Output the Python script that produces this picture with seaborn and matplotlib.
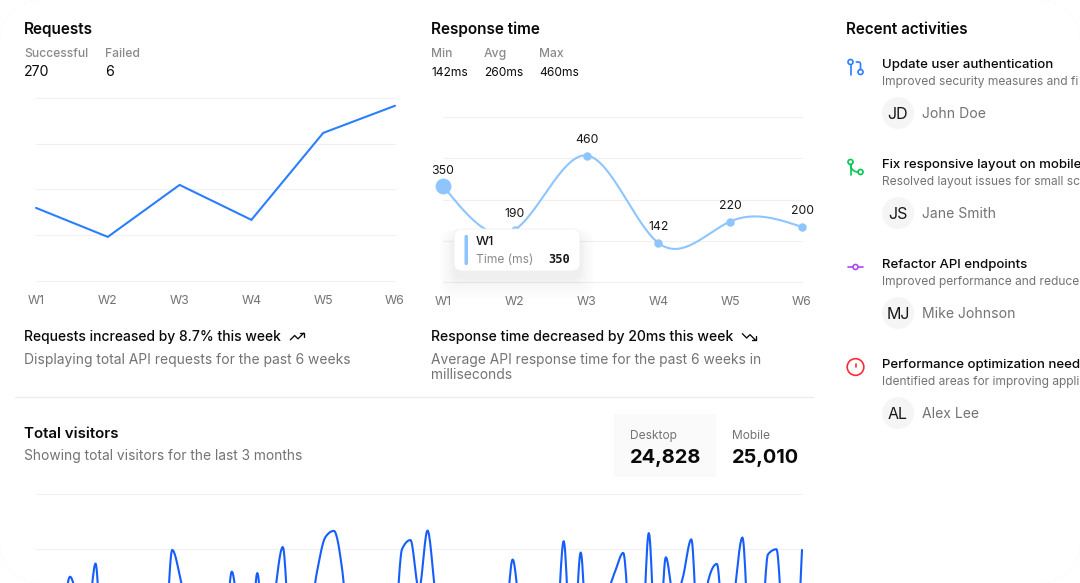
import numpy as np
import pandas as pd
import matplotlib
matplotlib.use("Agg")
import matplotlib.pyplot as plt
from matplotlib.patches import Circle, FancyBboxPatch, Rectangle
import seaborn as sns

# ---- data ----
weeks = ["W1", "W2", "W3", "W4", "W5", "W6"]
requests = [160, 97, 210, 134, 323, 382]
response_ms = [350, 190, 460, 142, 220, 200]
desktop_visitors = [
    222, 97, 167, 242, 373, 301, 245, 409, 59, 261, 327, 292, 342, 137, 120, 138,
    446, 364, 243, 89, 137, 224, 138, 387, 215, 75, 383, 122, 315, 454, 165, 293,
    247, 385, 481, 498, 388, 149, 227, 293, 335, 197, 197, 448, 473, 338, 499, 315,
    235, 177, 82, 81, 252, 294, 201, 213, 420, 233, 78, 340, 178, 178, 470, 103,
    439, 88, 294, 323, 385, 438, 155, 92, 492, 81, 426, 307, 371, 475, 107, 364,
    408, 169, 317, 480, 132, 141, 434, 448, 149, 103, 446,
]
activities = [
    ("Update user authentication", "Improved security measures and fi", "JD", "John Doe"),
    ("Fix responsive layout on mobile", "Resolved layout issues for small sc", "JS", "Jane Smith"),
    ("Refactor API endpoints", "Improved performance and reduce", "MJ", "Mike Johnson"),
    ("Performance optimization need", "Identified areas for improving appli", "AL", "Alex Lee"),
]

W, H = 1080, 583
BLUE_500, BLUE_300, BLUE_600 = "#2b7fff", "#8ec5ff", "#155dfc"
INK, MUTED, GRID = "#0a0a0a", "#737373", "#f0f0f0"
LABEL = "#8a8a8a"

sns.set_theme(style="white")
plt.rcParams["font.family"] = ["Inter", "DejaVu Sans"]
plt.rcParams["axes.unicode_minus"] = False


def pt(px):
    return px * 0.72


def natural_spline(y, per=30):
    """Natural cubic spline through evenly spaced points."""
    y = np.asarray(y, float)
    n = len(y)
    A = np.zeros((n, n))
    b = np.zeros(n)
    A[0, 0] = A[-1, -1] = 1
    for i in range(1, n - 1):
        A[i, i - 1:i + 2] = [1, 4, 1]
        b[i] = 6 * (y[i - 1] - 2 * y[i] + y[i + 1])
    m = np.linalg.solve(A, b)
    xs, ys = [], []
    for i in range(n - 1):
        t = np.linspace(0, 1, per, endpoint=False)
        xs.append(i + t)
        ys.append((1 - t) * y[i] + t * y[i + 1]
                  + ((1 - t) ** 3 - (1 - t)) * m[i] / 6 + (t ** 3 - t) * m[i + 1] / 6)
    return np.r_[np.concatenate(xs), n - 1], np.r_[np.concatenate(ys), y[-1]]


def monotone_curve(y, per=16):
    """Monotone cubic through evenly spaced points (slopes limited as in d3)."""
    y = np.asarray(y, float)
    d = np.diff(y)
    s = np.zeros(len(y))
    for i in range(1, len(y) - 1):
        if d[i - 1] * d[i] > 0:
            p = (d[i - 1] + d[i]) / 2
            s[i] = np.sign(d[i]) * min(abs(d[i - 1]), abs(d[i]), 0.5 * abs(p)) * 2
    s[0] = (3 * d[0] - s[1]) / 2
    s[-1] = (3 * d[-1] - s[-2]) / 2
    xs, ys = [], []
    for i in range(len(y) - 1):
        t = np.linspace(0, 1, per, endpoint=False)
        h00 = 2 * t**3 - 3 * t**2 + 1
        h10 = t**3 - 2 * t**2 + t
        h01 = -2 * t**3 + 3 * t**2
        h11 = t**3 - t**2
        xs.append(i + t)
        ys.append(h00 * y[i] + h10 * s[i] + h01 * y[i + 1] + h11 * s[i + 1])
    return np.r_[np.concatenate(xs), len(y) - 1], np.r_[np.concatenate(ys), y[-1]]


fig = plt.figure(figsize=(W / 100, H / 100), dpi=100, facecolor="white")


def chart_axes(x0, x1, ytop, ybot):
    ax = fig.add_axes([x0 / W, 1 - ybot / H, (x1 - x0) / W, (ybot - ytop) / H])
    ax.patch.set_alpha(0)
    sns.despine(ax=ax, left=True, bottom=True, top=True, right=True)
    ax.grid(True, axis="y", color=GRID, lw=0.75)
    ax.grid(False, axis="x")
    ax.set_axisbelow(True)
    ax.tick_params(axis="y", left=False, labelleft=False)
    return ax


# Requests: straight weekly line
ax1 = chart_axes(36, 395, 97.5, 281.5)
req_df = pd.DataFrame({"week": np.arange(len(weeks)), "count": requests})
sns.lineplot(data=req_df, x="week", y="count", ax=ax1, color=BLUE_500, lw=1.5,
             solid_joinstyle="miter", clip_on=False)
ax1.set_xlim(0, 5)
ax1.set_ylim(0, 400)
ax1.set_yticks([0, 100, 200, 300, 400])
ax1.set_xticks(range(6), weeks)

# Response time: smooth line with labelled dots
ax2 = chart_axes(443, 802, 117, 282)
cx, cy = natural_spline(response_ms)
sns.lineplot(x=cx, y=cy, ax=ax2, color=BLUE_300, lw=1.5, clip_on=False)
sns.scatterplot(x=np.arange(1, 6), y=response_ms[1:], ax=ax2, color=BLUE_300, s=37,
                linewidth=0, clip_on=False, zorder=4)
sns.scatterplot(x=[0], y=response_ms[:1], ax=ax2, color=BLUE_300, s=130,
                linewidth=0, clip_on=False, zorder=4)
ax2.set_xlim(0, 5)
ax2.set_ylim(0, 600)
ax2.set_yticks([0, 150, 300, 450, 600])
ax2.set_xticks(range(6), weeks)
for i, v in enumerate(response_ms):
    ax2.annotate(str(v), (i, v), xytext=(0, 6.9 if i else 6), textcoords="offset points",
                 ha="center", va="bottom", fontsize=pt(12.3), color="#171717", zorder=5)

for ax in (ax1, ax2):
    ax.tick_params(axis="x", bottom=False, labelsize=pt(12.3), labelcolor=MUTED, pad=4)
    ax.set_xlabel("")
    ax.set_ylabel("")

# Visitors: daily values, running past the lower edge of the canvas
ax3 = chart_axes(36, 802, 493.5, 713.5)
vx, vy = monotone_curve(desktop_visitors)
sns.lineplot(x=vx, y=vy, ax=ax3, color=BLUE_600, lw=1.5)
ax3.set_xlim(0, len(desktop_visitors) - 1)
ax3.set_ylim(0, 600)
ax3.set_yticks([0, 150, 300, 450, 600])
ax3.tick_params(axis="x", bottom=False, labelbottom=False)
ax3.set_xlabel("")
ax3.set_ylabel("")
for line in ax3.get_lines():
    line.set_clip_on(False)

# Keep the outermost grid rules visible on the axes edges
for ax in (ax1, ax2, ax3):
    for rule in ax.get_ygridlines():
        rule.set_clip_on(False)

# Page layer in pixel coordinates, for text, panels and icons
pg = fig.add_axes([0, 0, 1, 1], zorder=10)
pg.set_xlim(0, W)
pg.set_ylim(H, 0)
pg.axis("off")
pg.patch.set_alpha(0)


def put(x, y, s, size=14, color=INK, weight="normal", ha="left", family=None):
    """Place a text so that y is the middle of its capital letters."""
    kw = {"family": family} if family else {}
    return pg.text(x, y + 0.36 * size, s, fontsize=pt(size), color=color, fontweight=weight,
                   ha=ha, va="baseline", clip_on=True, **kw)


def icon(cx, cy, color, size=20, polys=(), circles=(), lw=1.67):
    k = size / 24
    for poly in polys:
        p = np.asarray(poly, float)
        pg.plot(cx + (p[:, 0] - 12) * k, cy + (p[:, 1] - 12) * k, color=color,
                lw=pt(lw), solid_capstyle="round", solid_joinstyle="round")
    for ox, oy, r in circles:
        pg.add_patch(Circle((cx + (ox - 12) * k, cy + (oy - 12) * k), r * k, fill=False,
                            ec=color, lw=pt(lw)))


# Faint dotted arcs in the canvas corners
corner_angles = np.deg2rad(np.linspace(0, 90, 20))
for cx0, cy0, sx, sy in [(40, 40, -1, -1), (1040, 40, 1, -1), (40, 543, -1, 1), (1040, 543, 1, 1)]:
    pg.plot(cx0 + sx * 40 * np.cos(corner_angles), cy0 + sy * 40 * np.sin(corner_angles),
            color="#f2f2f2", lw=0.6, linestyle=(0, (1, 3)))

# Requests header
put(24, 28.8, "Requests", 15.3, weight="semibold")
put(24, 52.7, "Successful", 12.1, LABEL, "medium")
put(105, 52.7, "Failed", 12.1, LABEL, "medium")
put(24, 71, "270", 14.2)
put(105, 71, "6", 14.2)
put(24, 335.5, "Requests increased by 8.7% this week", 13.9, weight="medium")
put(24, 359.5, "Displaying total API requests for the past 6 weeks", 13.85, MUTED)
icon(297, 336.5, INK, 16, polys=[[(22, 7), (13.5, 15.5), (8.5, 10.5), (2, 17)],
                                 [(16, 7), (22, 7), (22, 13)]], lw=1.33)

# Response time header
put(431, 28.8, "Response time", 15.3, weight="semibold")
put(431, 52.7, "Min", 12.1, LABEL, "medium")
put(484, 52.7, "Avg", 12.1, LABEL, "medium")
put(539, 52.7, "Max", 12.1, LABEL, "medium")
put(431, 71.3, "142ms", 12)
put(484, 71.3, "260ms", 12)
put(539, 71.3, "460ms", 12)
put(431, 335.5, "Response time decreased by 20ms this week", 14, weight="medium")
put(431, 359.5, "Average API response time for the past 6 weeks in", 13.8, MUTED)
put(431, 374, "milliseconds", 13.8, MUTED)
icon(749, 337, INK, 16, polys=[[(22, 17), (13.5, 8.5), (8.5, 13.5), (2, 7)],
                               [(16, 17), (22, 17), (22, 11)]], lw=1.33)

# Hover tooltip with a soft shadow
for grow, alpha in zip(np.arange(24, 0, -2), np.linspace(0.002, 0.008, 12)):
    pg.add_patch(FancyBboxPatch((454 - grow * 0.6, 229 + 7 - grow * 0.3), 126 + grow * 1.2,
                                42 + grow * 1.2, boxstyle="round,pad=0,rounding_size=12",
                                fc="black", ec="none", alpha=alpha))
pg.add_patch(FancyBboxPatch((454, 229), 126, 42, boxstyle="round,pad=0,rounding_size=8",
                            fc="white", ec="#f0f0f0", lw=0.6))
pg.add_patch(FancyBboxPatch((464.5, 235), 3.5, 30, boxstyle="round,pad=0,rounding_size=1.5",
                            fc=BLUE_300, ec="none"))
put(476, 240.7, "W1", 13, "#171717", "medium")
put(476, 258.7, "Time (ms)", 12, LABEL)
put(570, 258.7, "350", 12, "#171717", "bold", ha="right", family="DejaVu Sans Mono")

# Section divider and visitors header
pg.plot([15, 813], [397, 397], color="#ececec", lw=1)
put(24, 433, "Total visitors", 15.1, weight="semibold")
put(24, 455.5, "Showing total visitors for the last 3 months", 13.8, MUTED)
pg.add_patch(Rectangle((614, 414), 102, 63, fc="#fafafa", ec="none"))
put(630, 434.5, "Desktop", 12, MUTED)
put(732, 434.5, "Mobile", 12, MUTED)
put(630, 455.5, "24,828", 20, weight="bold")
put(732, 455.5, "25,010", 20, weight="bold")

# Recent activities column
put(846, 29, "Recent activities", 15.2, weight="semibold")
arc = np.deg2rad(np.linspace(180, 90, 12))
icon_specs = [
    dict(color=BLUE_500, circles=[(18, 18, 3), (6, 6, 3)],
         polys=[[(13, 6), (16, 6), (17.4, 6.6), (18, 8), (18, 15)], [(6, 9), (6, 21)]]),
    dict(color="#00c950", circles=[(18, 18, 3), (6, 6, 3)],
         polys=[[(6, 21), (6, 9)], np.c_[15 + 9 * np.cos(arc), 9 + 9 * np.sin(arc)]]),
    dict(color="#ad46ff", circles=[(12, 12, 3)], polys=[[(3, 12), (9, 12)], [(15, 12), (21, 12)]]),
    dict(color="#fb2c36", circles=[(12, 12, 10)], polys=[[(12, 8), (12, 12)], [(12, 16), (12.01, 16)]]),
]
for i, ((title, detail, initials, name), spec) in enumerate(zip(activities, icon_specs)):
    top = 100 * i
    icon(855.5, 67 + top, **spec)
    put(882, 63 + top, title, 13.2, weight="medium")
    put(882, 81 + top, detail, 12, MUTED)
    pg.add_patch(Circle((898, 113 + top), 16, fc="#f5f5f5", ec="none"))
    put(898, 113 + top, initials, 16, "#171717", ha="center")
    put(922, 113 + top, name, 14, MUTED)

fig.savefig("out.png", dpi=100, facecolor="white")
